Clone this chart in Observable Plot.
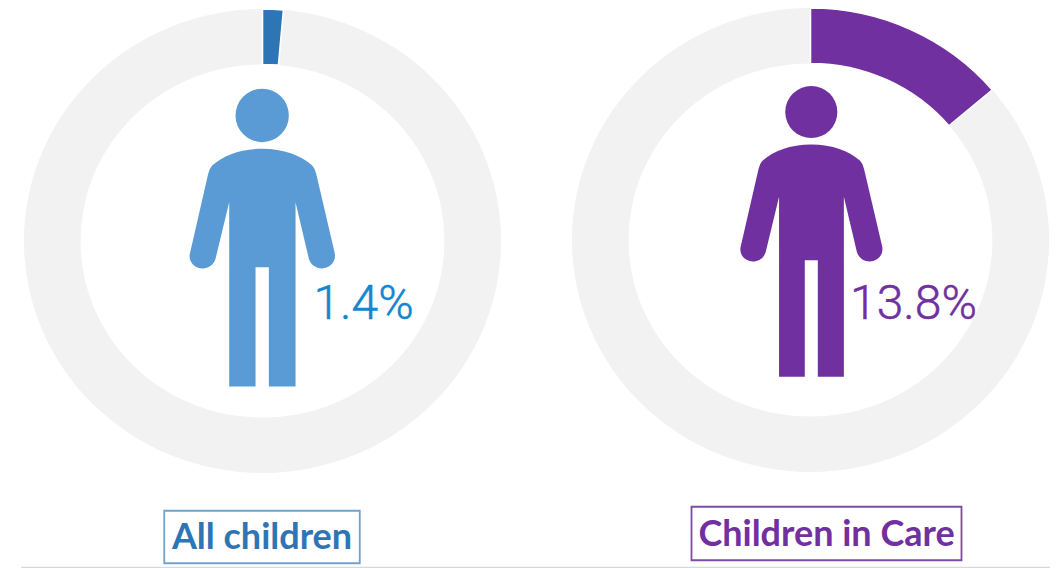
<!DOCTYPE html>
<html><head><meta charset="utf-8">
<script src="https://cdn.jsdelivr.net/npm/d3@7"></script>
<script src="https://cdn.jsdelivr.net/npm/@observablehq/plot@0.6"></script>
<style>html,body{margin:0;padding:0;background:#fff}svg{display:block}</style>
</head><body><div id="chart"></div>
<script>
// Data
const groups = ["All children", "Children in Care"];
const shares = [1.4, 13.8];
const shareLabels = ["1.4%", "13.8%"];

// Styles and layout, one entry per group
const trackColor = "#f2f2f2";
const sliceColors = ["#2e75b6", "#7030a0"];
const personColors = ["#5b9bd5", "#7030a0"];
const valueColors = ["#1287cf", "#7030a0"];
const labelColors = ["#2e75b6", "#7030a0"];
const boxColors = ["#6fa3d0", "#7f4aa8"];
const ringY = [241, 240];
const personY = [237.3, 231];
const personR = [100, 97.7];
const personDx = [-0.8, 0.3];
const valueY = [318, 318];
const valueDx = [100.5, 102.5];
const labelY = [537, 534];
const labelDx = [-1, 15.5];
const boxY = [536.5, 533];
const boxSizes = [[195.5, 52.5], [270, 53.5]];
const outerRx = 238.5, ringAspect = 232 / 238.5, innerRatio = 0.761;

const rows = groups.map((group, i) => ({group, i, share: shares[i], label: shareLabels[i]}));
const shareToAngle = d3.scaleLinear([0, 100], [0, 2 * Math.PI]);

// Ring drawn with d3.arc at the positions given by Plot's scales
function ringMark(getShare, fill, stroke) {
  return Plot.dot(rows, {
    x: "group", y: (d) => ringY[d.i],
    render(index, scales, values) {
      const g = d3.create("svg:g");
      const arc = d3.arc().innerRadius(outerRx * innerRatio).outerRadius(outerRx).startAngle(0);
      for (const i of index) {
        g.append("path")
          .attr("transform", `translate(${values.x[i]},${values.y[i]}) scale(1,${ringAspect})`)
          .attr("d", arc({endAngle: shareToAngle(getShare(rows[i]))}))
          .attr("fill", fill(rows[i]))
          .attr("stroke", stroke)
          .attr("stroke-width", stroke === "none" ? 0 : 1.6)
          .attr("vector-effect", "non-scaling-stroke");
      }
      return g.node();
    }
  });
}

// Person pictogram as a custom symbol; r sets its scale
const person = {
  draw(c, size) {
    const k = Math.sqrt(size / Math.PI) / 300;
    const X = (v) => (v - 275) * k, Y = (v) => (v - 472) * k;
    c.moveTo(X(355), Y(105));
    c.arc(X(275), Y(105), 80 * k, 0, 2 * Math.PI);
    c.closePath();
    c.moveTo(X(275), Y(205));
    c.bezierCurveTo(X(340), Y(205), X(390), Y(225), X(425), Y(255));
    c.quadraticCurveTo(X(433), Y(263), X(437), Y(280));
    c.lineTo(X(492), Y(515));
    c.bezierCurveTo(X(500), Y(545), X(475), Y(564), X(455), Y(564));
    c.bezierCurveTo(X(435), Y(564), X(420), Y(552), X(415), Y(535));
    c.lineTo(X(375), Y(365));
    c.lineTo(X(375), Y(918));
    c.lineTo(X(295), Y(918));
    c.lineTo(X(295), Y(560));
    c.lineTo(X(255), Y(560));
    c.lineTo(X(255), Y(918));
    c.lineTo(X(176), Y(918));
    c.lineTo(X(176), Y(365));
    c.lineTo(X(135), Y(535));
    c.bezierCurveTo(X(130), Y(552), X(115), Y(564), X(96), Y(564));
    c.bezierCurveTo(X(75), Y(564), X(50), Y(545), X(59), Y(515));
    c.lineTo(X(113), Y(280));
    c.quadraticCurveTo(X(117), Y(263), X(125), Y(255));
    c.bezierCurveTo(X(160), Y(225), X(210), Y(205), X(275), Y(205));
    c.closePath();
  }
};
const boxSymbol = (w, h) => ({
  draw(c) { c.rect(-w / 2, -h / 2, w, h); }
});

const perGroup = (mark) => rows.flatMap((d) => mark(d));

const plot = Plot.plot({
  width: 1059, height: 568,
  margin: 0,
  style: {background: "#fff"},
  x: {type: "point", domain: groups, range: [262.5, 810.5], padding: 0, round: false, axis: null},
  y: {type: "identity", axis: null},
  marks: [
    ringMark(() => 100, () => trackColor, "none"),
    ringMark((d) => d.share, (d) => sliceColors[d.i], "#fff"),
    ...perGroup((d) => [
      Plot.dot([d], {x: "group", y: () => personY[d.i], dx: personDx[d.i], r: personR[d.i],
        symbol: person, fill: personColors[d.i], stroke: "none"}),
      Plot.text([d], {x: "group", y: () => valueY[d.i], dx: valueDx[d.i], text: "label",
        fill: valueColors[d.i], fontSize: 48, fontWeight: 300, fontFamily: "Roboto",
        stroke: valueColors[d.i], strokeWidth: 0.5, lineAnchor: "bottom"}),
      Plot.dot([d], {x: "group", y: () => boxY[d.i], dx: labelDx[d.i] , r: 10,
        symbol: boxSymbol(...boxSizes[d.i]), fill: "none", stroke: boxColors[d.i], strokeWidth: 1.8}),
      Plot.text([d], {x: "group", y: () => labelY[d.i], dx: labelDx[d.i], text: "group",
        fill: labelColors[d.i], fontSize: 36, fontWeight: 700, fontFamily: "Lato"})
    ]),
    Plot.ruleY([567], {stroke: "#d9d9d9", strokeWidth: 1.5, insetLeft: 21, insetRight: 9})
  ]
});
document.getElementById("chart").append(plot);
</script></body></html>
